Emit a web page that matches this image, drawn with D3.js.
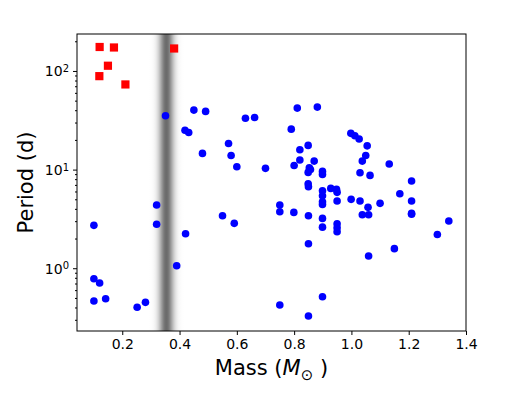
<!DOCTYPE html>
<html>
<head>
<meta charset="UTF-8">
<script src="https://d3js.org/d3.v7.min.js"></script>
<style>
    body { margin: 0; background: #fff; }
    svg text { font-family: "DejaVu Sans", sans-serif; fill: #000; }
</style>
</head>
<body>
<svg id="chart" width="518" height="393"></svg>
<script>
    // 数据：红色方块（长周期）
    const massRed   = [0.121, 0.171, 0.150, 0.120, 0.211, 0.381];
    const periodRed = [175, 173, 113, 88.6, 73, 169];

    // 数据：蓝色圆点
    const massBlue = [
        0.351, 0.450, 0.491, 0.630, 0.662, 0.419, 0.432, 0.571, 0.480, 0.580,
        0.600, 0.700, 0.811, 0.881, 0.790, 0.998, 1.012, 1.027, 1.055, 0.849,
        0.820, 1.050, 1.038, 0.820, 0.870, 0.800, 0.853, 0.857, 0.849, 0.899,
        0.899, 1.030, 1.065, 1.132, 1.210, 0.849, 0.850, 0.899, 0.928, 0.948,
        0.950, 0.899, 0.899, 0.899, 0.950, 0.999, 1.030, 1.058, 1.100, 1.169,
        1.210, 1.210, 1.210, 0.750, 0.750, 0.799, 0.850, 1.038, 1.060, 0.899,
        0.899, 0.950, 0.950, 0.950, 1.340, 1.300, 0.850, 1.150, 1.060, 0.899,
        0.750, 0.850, 0.320, 0.101, 0.320, 0.550, 0.591, 0.421, 0.390, 0.101,
        0.121, 0.101, 0.142, 0.252, 0.281
    ];
    const periodBlue = [
        35.1, 40.1, 38.9, 33.2, 33.8, 25.1, 23.8, 18.4, 14.6, 13.9,
        10.7, 10.3, 42.0, 43.0, 25.7, 23.3, 22.0, 20.4, 17.4, 17.6,
        15.9, 13.9, 12.2, 12.5, 12.2, 11.0, 10.4, 10.0, 9.37, 9.59,
        8.94, 9.28, 8.73, 11.4, 7.65, 7.18, 6.70, 6.10, 6.45, 6.30,
        5.88, 5.43, 4.72, 4.44, 4.80, 4.99, 4.80, 4.14, 4.55, 5.69,
        4.80, 3.60, 3.52, 4.37, 3.74, 3.68, 3.40, 3.48, 3.48, 3.20,
        2.61, 2.82, 2.57, 2.34, 3.01, 2.20, 1.77, 1.58, 1.33, 0.514,
        0.424, 0.328, 4.37, 2.72, 2.79, 3.40, 2.85, 2.24, 1.06, 0.783,
        0.708, 0.465, 0.491, 0.402, 0.451
    ];

    const xTicks = [0.2, 0.4, 0.6, 0.8, 1.0, 1.2, 1.4];
    const yTicks = [1, 10, 100];
    const bandCenter = 0.354;   // 灰色竖带中心
    const bandSigma = 0.018;

    const margin = { top: 34, right: 52, bottom: 62, left: 77 };
    const width = 518 - margin.left - margin.right;
    const height = 393 - margin.top - margin.bottom;

    const svg = d3.select("#chart");
    const g = svg.append("g").attr("transform", `translate(${margin.left},${margin.top})`);

    const x = d3.scaleLinear().domain([0.042, 1.4]).range([0, width]);
    const y = d3.scaleLog().domain([0.231, 237]).range([height, 0]);

    // 灰色渐变带
    const defs = svg.append("defs");
    const grad = defs.append("linearGradient")
        .attr("id", "band")
        .attr("gradientUnits", "userSpaceOnUse")
        .attr("x1", x(bandCenter - 4 * bandSigma)).attr("x2", x(bandCenter + 4 * bandSigma))
        .attr("y1", 0).attr("y2", 0);
    d3.range(0, 41).forEach(i => {
        const t = i / 40;
        const d = (t - 0.5) * 8;
        grad.append("stop")
            .attr("offset", t)
            .attr("stop-color", "#000")
            .attr("stop-opacity", 0.58 * Math.exp(-d * d / 2));
    });
    defs.append("clipPath").attr("id", "clip")
        .append("rect").attr("width", width).attr("height", height);

    g.append("rect")
        .attr("x", x(bandCenter - 4 * bandSigma))
        .attr("width", x(bandCenter + 4 * bandSigma) - x(bandCenter - 4 * bandSigma))
        .attr("y", 0).attr("height", height)
        .attr("fill", "url(#band)");

    // 散点
    const pts = g.append("g").attr("clip-path", "url(#clip)");
    pts.selectAll("circle")
        .data(d3.range(massBlue.length))
        .join("circle")
        .attr("cx", i => x(massBlue[i]))
        .attr("cy", i => y(periodBlue[i]))
        .attr("r", 3.8)
        .attr("fill", "#0000ff");

    const sq = 8.2;
    pts.selectAll("rect.red")
        .data(d3.range(massRed.length))
        .join("rect")
        .attr("class", "red")
        .attr("x", i => x(massRed[i]) - sq / 2)
        .attr("y", i => y(periodRed[i]) - sq / 2)
        .attr("width", sq).attr("height", sq)
        .attr("fill", "#ff0000");

    // 坐标轴
    const xAxis = g.append("g")
        .attr("transform", `translate(0,${height})`)
        .call(d3.axisBottom(x).tickValues(xTicks).tickFormat(d3.format(".1f")).tickSize(4).tickPadding(4));
    xAxis.selectAll("text").style("font-size", "14px");

    const minor = [];
    [0.1, 1, 10, 100].forEach(b => {
        for (let k = 2; k <= 9; k++) {
            const v = b * k;
            if (v > y.domain()[0] && v < y.domain()[1]) minor.push(v);
        }
    });
    g.append("g").call(d3.axisLeft(y).tickValues(minor).tickSize(2).tickFormat(""));

    const yAxis = g.append("g")
        .call(d3.axisLeft(y).tickValues(yTicks).tickSize(4).tickPadding(4).tickFormat(""));
    yAxis.selectAll(".tick").append("text")
        .attr("x", -8).attr("dy", "0.35em")
        .attr("text-anchor", "end")
        .style("font-size", "14px")
        .each(function (d) {
            const t = d3.select(this);
            t.append("tspan").text("10");
            t.append("tspan").attr("dy", "-0.45em").style("font-size", "10px").text(Math.round(Math.log10(d)));
        });

    g.selectAll(".domain").remove();
    g.append("rect")
        .attr("width", width).attr("height", height)
        .attr("fill", "none").attr("stroke", "#000").attr("stroke-width", 1);

    // 轴标题
    const xl = svg.append("text")
        .attr("x", margin.left + width / 2).attr("y", 375)
        .attr("text-anchor", "middle")
        .style("font-size", "21px");
    xl.append("tspan").text("Mass (");
    xl.append("tspan").style("font-style", "italic").text("M");
    xl.append("tspan").attr("dy", "0.3em").style("font-size", "15px").text("\u2299");
    xl.append("tspan").attr("dy", "-0.2em").text(" )");

    svg.append("text")
        .attr("transform", `translate(33,${margin.top + height / 2}) rotate(-90)`)
        .attr("text-anchor", "middle")
        .style("font-size", "21px")
        .text("Period (d)");
</script>
</body>
</html>
